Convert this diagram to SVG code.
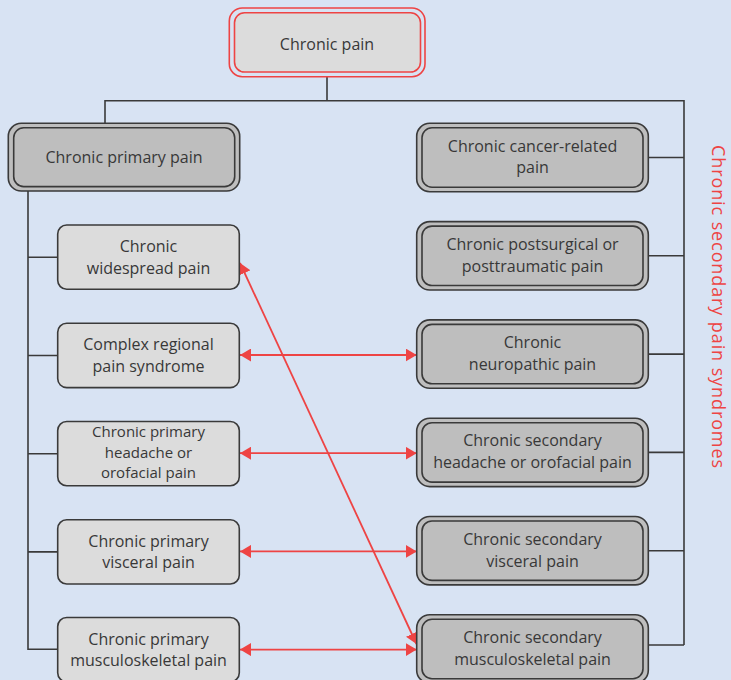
<svg xmlns="http://www.w3.org/2000/svg" width="731" height="680" viewBox="0 0 731 680">
<defs>
<style>
.bg{fill:#d8e3f3}
.ln{stroke:#3a3a3a;stroke-width:1.6;fill:none}
.arr{stroke:#ee4444;stroke-width:1.8;fill:none;marker-start:url(#ah);marker-end:url(#ah)}
.outer{fill:#bebebe;stroke:#3a3a3a;stroke-width:1.6}
.inner{fill:#bebebe;stroke:#3a3a3a;stroke-width:1.6}
.light{fill:#dcdcdc;stroke:#3a3a3a;stroke-width:1.6}
.t{font-family:"Open Sans","Liberation Sans",sans-serif;font-size:16px;fill:#383838;text-anchor:middle}
.t3{font-size:15px}
.side{font-family:"Open Sans","Liberation Sans",sans-serif;font-size:18px;fill:#ee4444;text-anchor:middle}
</style>
<marker id="ah" viewBox="0 0 11 13" refX="11" refY="6.5" markerWidth="11" markerHeight="13" markerUnits="userSpaceOnUse" orient="auto-start-reverse">
<path d="M0,0 L11,6.5 L0,13 z" fill="#ee4444"/>
</marker>
</defs>
<rect class="bg" x="0" y="0" width="731" height="680"/>

<g id="connectors">
<path class="ln" d="M327,76.7 V100.7 M105,123.3 V100.7 H684 V645"/>
<path class="ln" d="M28,191 V649.3 H57.7 M28,257.3 H57.7 M28,355.5 H57.7 M28,453.7 H57.7 M28,551.9 H57.7"/>
<path class="ln" d="M648.3,157.5 H684 M648.3,255.8 H684 M648.3,354.1 H684 M648.3,452.4 H684 M648.3,550.7 H684 M648.3,645 H684"/>
<line class="arr" x1="240" y1="355" x2="416.7" y2="355"/>
<line class="arr" x1="240" y1="453.2" x2="416.7" y2="453.2"/>
<line class="arr" x1="240" y1="551.4" x2="416.7" y2="551.4"/>
<line class="arr" x1="240" y1="649.6" x2="416.7" y2="649.6"/>
<line class="arr" x1="240" y1="263" x2="416.5" y2="644"/>
</g>

<g id="chronic-pain">
<rect x="229.3" y="8" width="195.7" height="68.7" rx="13" fill="none" stroke="#ee4444" stroke-width="1.6"/>
<rect x="234.5" y="12.8" width="186" height="59.2" rx="10" fill="#dcdcdc" stroke="#ee4444" stroke-width="1.6"/>
<text class="t" x="327" y="50">Chronic pain</text>
</g>

<g id="chronic-primary-pain">
<rect class="outer" x="8.3" y="123.3" width="231.4" height="67.7" rx="13"/>
<rect class="inner" x="13.7" y="127.8" width="221" height="58.8" rx="10"/>
<text class="t" x="124" y="163">Chronic primary pain</text>
</g>

<g id="widespread">
<rect class="light" x="57.7" y="225" width="181.6" height="64.3" rx="9"/>
<text class="t" x="148.5" y="252">Chronic</text>
<text class="t" x="148.5" y="273.5">widespread pain</text>
</g>
<g id="crps">
<rect class="light" x="57.7" y="323.3" width="181.6" height="64.3" rx="9"/>
<text class="t" x="148.5" y="350">Complex regional</text>
<text class="t" x="148.5" y="371.5">pain syndrome</text>
</g>
<g id="primary-headache">
<rect class="light" x="57.7" y="421.5" width="181.6" height="64.3" rx="9"/>
<text class="t t3" x="148.5" y="437">Chronic primary</text>
<text class="t t3" x="148.5" y="457.5">headache or</text>
<text class="t t3" x="148.5" y="478">orofacial pain</text>
</g>
<g id="primary-visceral">
<rect class="light" x="57.7" y="519.7" width="181.6" height="64.3" rx="9"/>
<text class="t" x="148.5" y="546.5">Chronic primary</text>
<text class="t" x="148.5" y="568">visceral pain</text>
</g>
<g id="primary-msk">
<rect class="light" x="57.7" y="617.5" width="181.6" height="64.3" rx="9"/>
<text class="t" x="148.5" y="644.5">Chronic primary</text>
<text class="t" x="148.5" y="666">musculoskeletal pain</text>
</g>

<g id="cancer">
<rect class="outer" x="416.7" y="123.3" width="231.6" height="68.4" rx="13"/>
<rect class="inner" x="422" y="127.8" width="221" height="59.4" rx="10"/>
<text class="t" x="532.5" y="151.5">Chronic cancer-related</text>
<text class="t" x="532.5" y="173.3">pain</text>
</g>
<g id="postsurgical">
<rect class="outer" x="416.7" y="221.6" width="231.6" height="68.4" rx="13"/>
<rect class="inner" x="422" y="226.1" width="221" height="59.4" rx="10"/>
<text class="t" x="532.5" y="249.8">Chronic postsurgical or</text>
<text class="t" x="532.5" y="271.6">posttraumatic pain</text>
</g>
<g id="neuropathic">
<rect class="outer" x="416.7" y="319.9" width="231.6" height="68.4" rx="13"/>
<rect class="inner" x="422" y="324.4" width="221" height="59.4" rx="10"/>
<text class="t" x="532.5" y="348.1">Chronic</text>
<text class="t" x="532.5" y="369.9">neuropathic pain</text>
</g>
<g id="secondary-headache">
<rect class="outer" x="416.7" y="418.2" width="231.6" height="68.4" rx="13"/>
<rect class="inner" x="422" y="422.7" width="221" height="59.4" rx="10"/>
<text class="t" x="532.5" y="446.4">Chronic secondary</text>
<text class="t" x="532.5" y="468.2">headache or orofacial pain</text>
</g>
<g id="secondary-visceral">
<rect class="outer" x="416.7" y="516.5" width="231.6" height="68.4" rx="13"/>
<rect class="inner" x="422" y="521" width="221" height="59.4" rx="10"/>
<text class="t" x="532.5" y="544.7">Chronic secondary</text>
<text class="t" x="532.5" y="566.5">visceral pain</text>
</g>
<g id="secondary-msk">
<rect class="outer" x="416.7" y="614.8" width="231.6" height="68.4" rx="13"/>
<rect class="inner" x="422" y="619.3" width="221" height="59.4" rx="10"/>
<text class="t" x="532.5" y="643">Chronic secondary</text>
<text class="t" x="532.5" y="664.8">musculoskeletal pain</text>
</g>

<g id="side-label">
<text class="side" transform="translate(712,306.5) rotate(90)" x="0" y="0" textLength="323" lengthAdjust="spacing">Chronic secondary pain syndromes</text>
</g>
</svg>
